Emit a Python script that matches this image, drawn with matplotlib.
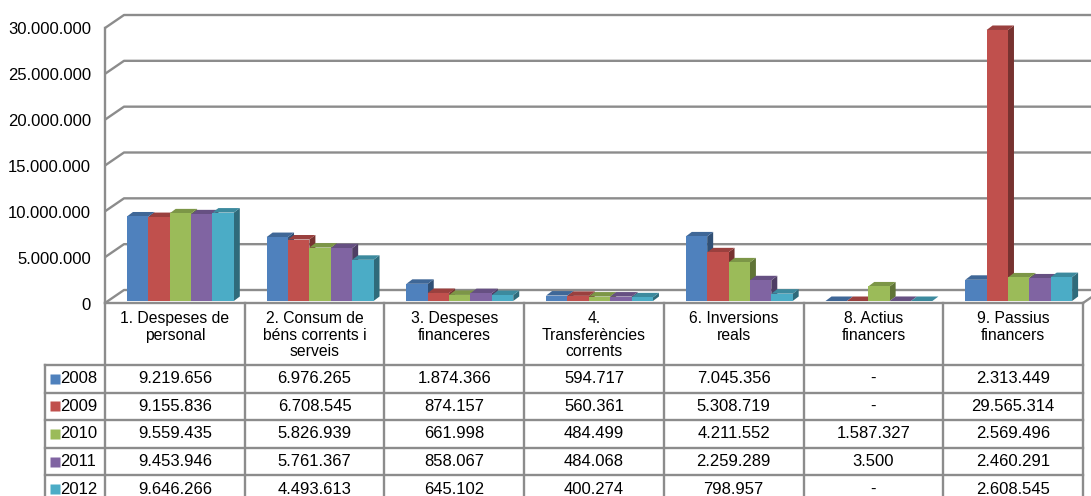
import matplotlib.pyplot as plt
import numpy as np
from matplotlib.patches import Polygon

plt.rcParams['font.family'] = ['Liberation Sans', 'DejaVu Sans']

categories = ["1. Despeses de\npersonal", "2. Consum de\nbéns corrents i\nserveis",
              "3. Despeses\nfinanceres", "4.\nTransferències\ncorrents",
              "6. Inversions\nreals", "8. Actius\nfinancers", "9. Passius\nfinancers"]
years = ["2008", "2009", "2010", "2011", "2012"]
v2008 = [9219656, 6976265, 1874366, 594717, 7045356, 0, 2313449]
v2009 = [9155836, 6708545, 874157, 560361, 5308719, 0, 29565314]
v2010 = [9559435, 5826939, 661998, 484499, 4211552, 1587327, 2569496]
v2011 = [9453946, 5761367, 858067, 484068, 2259289, 3500, 2460291]
v2012 = [9646266, 4493613, 645102, 400274, 798957, 0, 2608545]
series = [v2008, v2009, v2010, v2011, v2012]
colors = ["#4F81BD", "#C0504D", "#9BBB59", "#8064A2", "#4BACC6"]
yticks = [0, 5000000, 10000000, 15000000, 20000000, 25000000, 30000000]


def fmt(v):
    if v == 0:
        return "-"
    return "{:,}".format(v).replace(",", ".")


def shade(c, f):
    c = np.array([int(c[k:k + 2], 16) for k in (1, 3, 5)]) / 255.0
    return tuple(c * f)


W, H = 1091, 496
fig = plt.figure(figsize=(W / 100, H / 100), dpi=100)
fig.patch.set_facecolor("white")

# plot area in pixels: x 105..1083, y 303 (0) .. 28 (30M)
ax = fig.add_axes([105 / W, (H - 303) / H, 978 / W, 275 / H])
ax.set_xlim(0, 7)
ax.set_ylim(0, 30000000)
ax.axis("off")

ux = 978 / 7.0
uy = 275 / 30000000.0


def dxp(px):
    return px / ux


def dyp(px):
    return px / uy


grid = "#8c8c8c"
wdx, wdy = dxp(19), dyp(13)
nfs = 12     # numbers
hfs = 11.3   # header text

# walls and gridlines
for t in yticks:
    ax.plot([0, wdx, 7.3], [t, t + wdy, t + wdy], color=grid, lw=1.7,
            clip_on=False, zorder=1, solid_capstyle="butt")
    ax.text(-dxp(14), t - dyp(2), fmt(t) if t else "0", ha="right", va="center",
            fontsize=nfs, color="black")
ax.plot([0, 0], [0, yticks[-1]], color=grid, lw=1.7, clip_on=False, zorder=1)
ax.plot([7, 7 + wdx], [0, wdy], color=grid, lw=1.7, clip_on=False, zorder=1)

# 3D bars
bw = 0.153
goff = 0.157
bdx, bdy = dxp(6), dyp(4.5)
base = dyp(2)
z = 2
for i in range(len(categories)):
    for j, vals in enumerate(series):
        v = vals[i]
        x0 = i + goff + j * bw
        b = base
        top = b + v
        c = colors[j]
        front = Polygon([(x0, b), (x0 + bw, b), (x0 + bw, top), (x0, top)],
                        closed=True, facecolor=c, edgecolor="none", zorder=z + 2)
        topf = Polygon([(x0, top), (x0 + bw, top), (x0 + bw + bdx, top + bdy),
                        (x0 + bdx, top + bdy)],
                       closed=True, facecolor=shade(c, 0.8), edgecolor="none", zorder=z + 1)
        side = Polygon([(x0 + bw, b), (x0 + bw + bdx, b + bdy),
                        (x0 + bw + bdx, top + bdy), (x0 + bw, top)],
                       closed=True, facecolor=shade(c, 0.62), edgecolor="none", zorder=z)
        for p in (side, topf, front):
            p.set_clip_on(False)
            ax.add_patch(p)
        z += 3

# data table below the chart
tab = fig.add_axes([45 / W, (H - 503) / H, 1038 / W, 200 / H])
xl = -60 / ux
tab.set_xlim(xl, 7)
tab.set_ylim(-200, 0)
tab.axis("off")

hh = 62
rh = 27.6
tlw = 1.7
tab.plot([0, 7], [0, 0], color=grid, lw=tlw, clip_on=False)
for k in range(len(years) + 1):
    y = -hh - k * rh
    tab.plot([xl, 7], [y, y], color=grid, lw=tlw, clip_on=False)
for i in range(len(categories) + 1):
    tab.plot([i, i], [0, -200], color=grid, lw=tlw, clip_on=False)
tab.plot([xl, xl], [-hh, -200], color=grid, lw=tlw, clip_on=False)

for i, cat in enumerate(categories):
    tab.text(i + 0.5, -8, cat, ha="center", va="top", fontsize=hfs,
             linespacing=1.13, color="black")

for k, (yr, vals) in enumerate(zip(years, series)):
    yc = -hh - k * rh - rh / 2
    tab.plot([xl + dxp(10)], [yc], marker="s", ms=7, color=colors[k],
             mec="none", clip_on=False)
    tab.text(xl + dxp(15), yc, yr, ha="left", va="center", fontsize=nfs, color="black")
    for i, v in enumerate(vals):
        tab.text(i + 0.5, yc, fmt(v), ha="center", va="center", fontsize=nfs,
                 color="black")

fig.savefig("out.png", dpi=100, facecolor="white")
